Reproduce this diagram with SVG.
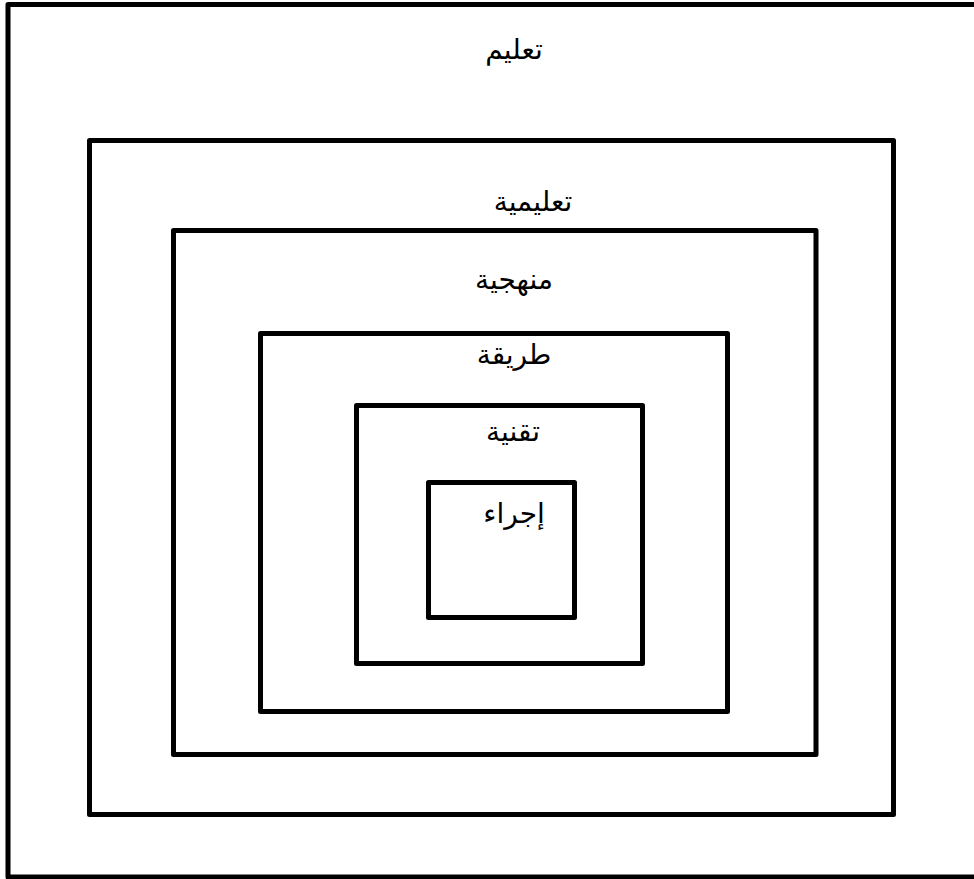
<svg xmlns="http://www.w3.org/2000/svg" width="974" height="879" viewBox="0 0 974 879">
<style>
.box{fill:none;stroke:#000;stroke-width:5;stroke-linejoin:round}
.lbl{font-family:"Liberation Sans","DejaVu Sans",sans-serif;font-size:28px;fill:#000;text-anchor:middle}
</style>
<rect width="974" height="879" fill="#fff"/>
<g id="n-taalim"><rect class="box" x="8" y="4.5" width="980" height="872.5"/><text class="lbl" x="514" y="59">تعليم</text></g>
<g id="n-taalimiya"><rect class="box" x="89.5" y="140.5" width="804" height="674"/><text class="lbl" x="533" y="211">تعليمية</text></g>
<g id="n-manhajiya"><rect class="box" x="173.5" y="230.5" width="642.5" height="524"/><text class="lbl" x="514" y="289">منهجية</text></g>
<g id="n-tariqa"><rect class="box" x="260.5" y="333.5" width="467" height="378"/><text class="lbl" x="514" y="364">طريقة</text></g>
<g id="n-taqniya"><rect class="box" x="356.5" y="405.5" width="286" height="258"/><text class="lbl" x="513" y="441">تقنية</text></g>
<g id="n-ijraa"><rect class="box" x="428.5" y="482.5" width="146" height="135"/><text class="lbl" x="514" y="523">إجراء</text></g>
<g id="connectors"></g>
</svg>
